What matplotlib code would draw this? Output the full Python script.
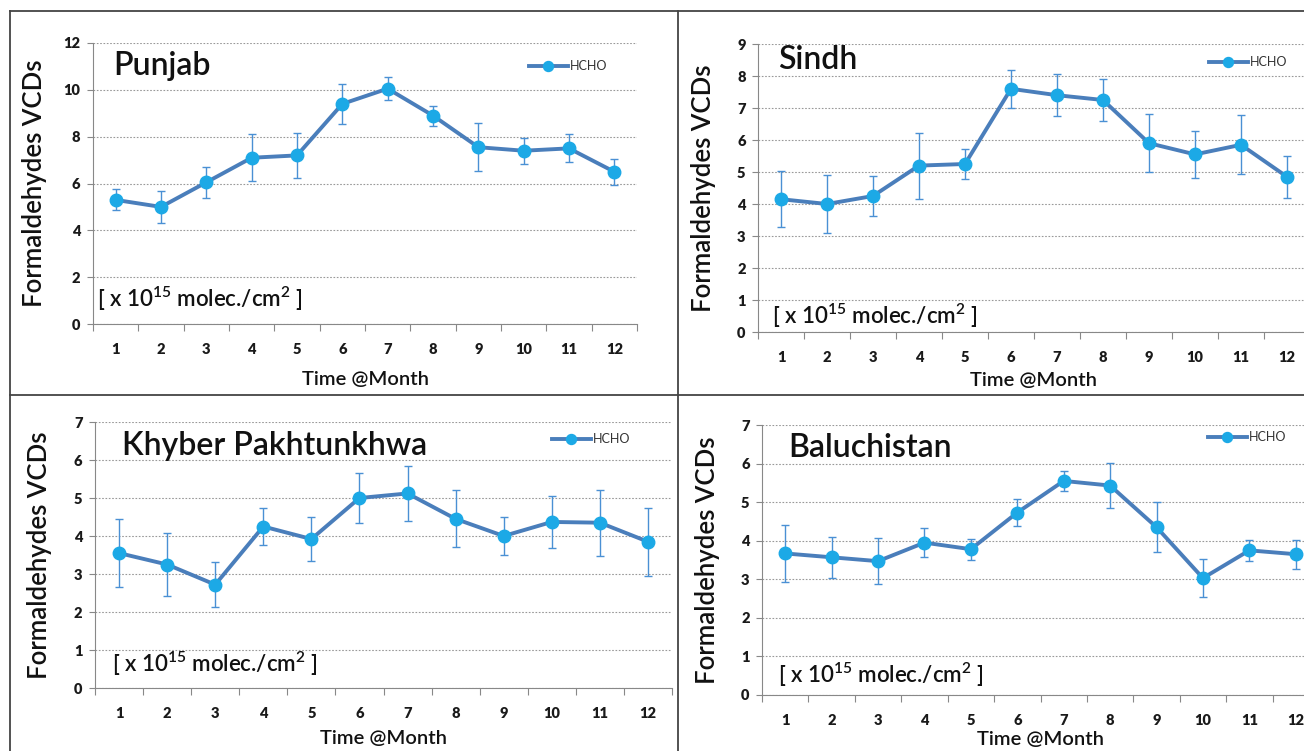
import matplotlib
matplotlib.use("Agg")
import matplotlib.pyplot as plt
from matplotlib.lines import Line2D
from matplotlib import font_manager
import numpy as np

plt.rcParams['font.family'] = ['Lato', 'DejaVu Sans']
plt.rcParams['mathtext.fontset'] = 'custom'
plt.rcParams['mathtext.rm'] = 'Lato'
plt.rcParams['mathtext.default'] = 'regular'

months = list(range(1, 13))
month_labels = [str(m) for m in months]
series_name = "HCHO"
ylabel_text = "Formaldehydes VCDs"
xlabel_text = "Time @Month"
unit_text = "[ x 10$^{15}$ molec./cm$^{2}$ ]"

regions = ["Punjab", "Sindh", "Khyber Pakhtunkhwa", "Baluchistan"]

punjab_vals = [5.3, 5.0, 6.05, 7.1, 7.2, 9.4, 10.05, 8.9, 7.55, 7.4, 7.5, 6.5]
punjab_err = [0.45, 0.7, 0.65, 1.0, 0.95, 0.85, 0.5, 0.43, 1.02, 0.55, 0.6, 0.55]

sindh_vals = [4.15, 4.0, 4.25, 5.2, 5.25, 7.6, 7.4, 7.25, 5.9, 5.55, 5.85, 4.85]
sindh_err = [0.87, 0.9, 0.62, 1.03, 0.47, 0.6, 0.65, 0.65, 0.9, 0.73, 0.92, 0.65]

kp_vals = [3.55, 3.25, 2.72, 4.25, 3.92, 5.0, 5.12, 4.45, 4.0, 4.37, 4.35, 3.85]
kp_err = [0.9, 0.82, 0.6, 0.48, 0.57, 0.65, 0.73, 0.75, 0.5, 0.68, 0.87, 0.9]

bal_vals = [3.67, 3.57, 3.47, 3.95, 3.78, 4.73, 5.55, 5.43, 4.35, 3.03, 3.75, 3.65]
bal_err = [0.73, 0.53, 0.6, 0.38, 0.27, 0.35, 0.25, 0.58, 0.65, 0.5, 0.27, 0.38]

ymax = [12, 9, 7, 7]
ystep = [2, 1, 1, 1]

all_vals = [punjab_vals, sindh_vals, kp_vals, bal_vals]
all_errs = [punjab_err, sindh_err, kp_err, bal_err]

W, H = 1304, 751
fig = plt.figure(figsize=(W / 100, H / 100), dpi=100)

# panel boxes in pixels: left, right, top, bottom
boxes = [(93, 637, 43, 324), (758, 1310, 44, 332), (95, 672, 422, 688), (762, 1319, 425, 695)]
ylabel_cx = [35, 703, 40, 707]
xlabel_top = [371, 372, 730, 731]
title_xy = [(113, 66), (778, 60), (122, 446), (788, 448)]
legend_xy = [(529, 66), (1209, 62), (552, 439), (1208, 437)]
unit_xy = [(97, 299), (772, 316), (112, 664), (778, 675)]

line_color = "#4A7EBB"
marker_color = "#1CA9E6"
err_color = "#4A90D4"

# pick a bold face for the tick labels
tick_fp = font_manager.FontProperties(family=['Lato', 'DejaVu Sans'], weight='heavy', size=10.5)

for i in range(4):
    l, r, t, b = boxes[i]
    ax = fig.add_axes([l / W, 1 - b / H, (r - l) / W, (b - t) / H])
    ax.errorbar(months, all_vals[i], yerr=all_errs[i], fmt='none', ecolor=err_color,
                elinewidth=1.0, capsize=3, capthick=1.0, zorder=2)
    ax.plot(months, all_vals[i], color=line_color, lw=2.8, marker='o', ms=9,
            mfc=marker_color, mec=marker_color, label=series_name, zorder=3)
    ax.set_xlim(0.5, 12.5)
    ax.set_ylim(0, ymax[i])
    yt = np.arange(0, ymax[i] + 0.01, ystep[i])
    ax.set_yticks(yt, labels=[str(int(v)) for v in yt], fontproperties=tick_fp, color='#1a1a1a')
    ax.set_xticks(months, labels=month_labels, fontproperties=tick_fp, color='#1a1a1a')
    ax.set_xticks(np.arange(0.5, 12.6, 1.0), minor=True)
    ax.tick_params(axis='x', which='major', length=0, pad=14)
    ax.tick_params(axis='x', which='minor', length=5, direction='out', color='#888888', width=0.8)
    ax.tick_params(axis='y', which='major', length=4, direction='out', color='#888888', width=0.8, pad=5)
    ax.grid(axis='y', color='#999999', lw=0.8, linestyle=(0, (1.5, 1.5)))
    ax.set_axisbelow(True)
    for s in ['top', 'right']:
        ax.spines[s].set_visible(False)
    for s in ['left', 'bottom']:
        ax.spines[s].set_color('#888888')
        ax.spines[s].set_linewidth(0.8)
    ax.set_ylabel(ylabel_text, fontsize=18.5, color='#111111', va='center', fontweight='semibold')
    ax.yaxis.set_label_coords((ylabel_cx[i] - l) / (r - l), 0.5)
    ax.set_xlabel(xlabel_text, fontsize=14.5, color='#111111', va='top', fontweight='semibold')
    ax.xaxis.set_label_coords(0.5, (b - xlabel_top[i]) / (b - t))
    tx, ty = title_xy[i]
    ax.text((tx - l) / (r - l), (b - ty) / (b - t), regions[i], transform=ax.transAxes,
            fontsize=23, ha='left', va='center', color='#111111', fontweight='semibold')
    ux, uy = unit_xy[i]
    ax.text((ux - l) / (r - l), (b - uy) / (b - t), unit_text, transform=ax.transAxes,
            fontsize=16, ha='left', va='center', color='#111111', fontweight='semibold')
    lx, ly = legend_xy[i]
    ax.legend(loc='center left', bbox_to_anchor=((lx - l) / (r - l), (b - ly) / (b - t)),
              frameon=False, fontsize=9, handlelength=3.1, handletextpad=0.15,
              borderpad=0, borderaxespad=0, labelcolor='#333333', markerscale=0.8)

# frame lines
def fline(x0, y0, x1, y1):
    fig.add_artist(Line2D([x0 / W, x1 / W], [1 - y0 / H, 1 - y1 / H], color='#444444', lw=1.3))

fline(10, 11, 1304, 11)
fline(10, 11, 10, 751)
fline(678, 11, 678, 751)
fline(10, 395, 1304, 395)

fig.savefig("out.png", dpi=100)
